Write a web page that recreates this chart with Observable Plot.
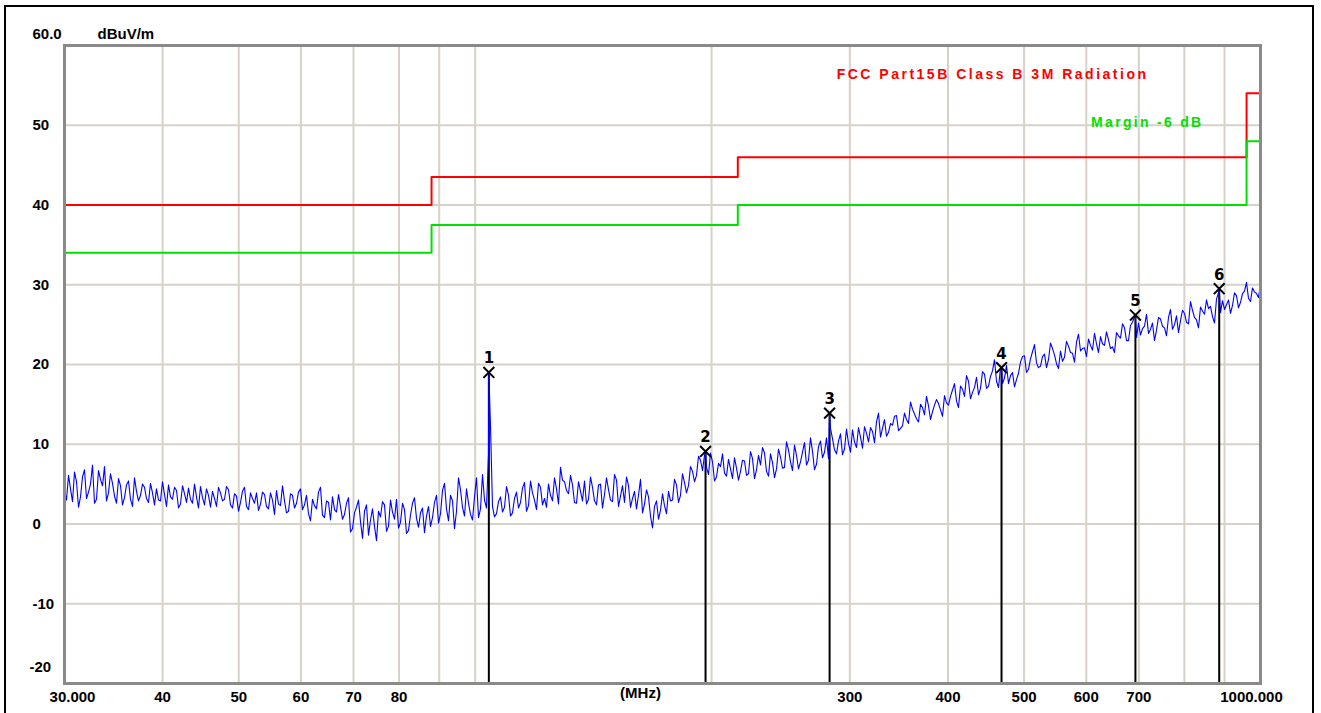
<!DOCTYPE html>
<html><head><meta charset="utf-8">
<script src="https://cdn.jsdelivr.net/npm/d3@7"></script>
<script src="https://cdn.jsdelivr.net/npm/@observablehq/plot@0.6"></script>
<style>
html,body{margin:0;padding:0;background:#fff;overflow:hidden;width:1321px;height:713px}
#chart{position:absolute;left:0;top:0}
#frame{position:absolute;left:4px;top:5px;width:1310px;height:760px;border:2px solid #000;box-sizing:border-box;pointer-events:none}
</style></head><body>
<div id="chart"></div><div id="frame"></div>
<script>
// Sweep definition (MHz)
const startMHz = 30, stopMHz = 1000;

const traceLevelsEven = [
  4.2, 6.1, 2.8, 5.3, 3.4, 6.8, 4.0, 7.4, 3.1, 5.6,
  7.2, 3.9, 5.1, 2.6, 4.8, 3.3, 5.4, 2.2, 4.1, 3.6,
  4.6, 2.7, 3.9, 4.4, 2.9, 3.7, 4.9, 3.1, 4.2, 2.5,
  3.8, 4.5, 2.6, 3.4, 4.7, 2.4, 3.6, 4.1, 2.2, 3.9,
  3.1, 4.3, 2.0, 3.5, 2.7, 4.6, 1.8, 3.2, 3.9, 2.5,
  3.7, 1.9, 3.0, 4.2, 2.3, 2.9, 1.6, 3.6, 2.6, 4.4,
  2.4, 1.3, 3.1, 1.9, 4.6, 0.8, 2.7, 3.4, 1.5, 2.2,
  1.2, 3.3, -0.6, 2.1, 0.3, 1.6, -1.4, 1.9, -2.1, 0.9,
  2.4, -0.3, 1.5, 3.1, 0.2, 1.8, -0.8, 2.6, 0.7, 1.4,
  -1.1, 2.2, 0.8, 3.6, 1.3, 5.1, 0.4, 2.9, 1.6, 4.3,
  1.0, 2.6, 0.5, 5.8, 1.9, 3.0, 8.8, 2.2, 1.3, 3.4,
  2.1, 3.6, 1.4, 4.0, 2.7, 5.2, 2.3, 3.9, 1.8, 4.6,
  3.2, 5.0, 2.9, 4.4, 7.1, 5.3, 3.8, 4.9, 2.6, 4.1,
  5.4, 3.1, 4.6, 2.4, 5.0, 3.7, 4.3, 2.8, 5.5, 3.5,
  2.7, 4.8, 3.2, 1.9, 5.6, 2.5, 3.4, -0.5, 2.9, 1.7,
  2.3, 4.1, 3.0, 4.9, 3.6, 5.2, 4.8, 6.6, 6.1, 8.0,
  8.6, 6.2, 7.8, 5.9, 7.2, 6.4, 8.1, 5.7, 7.0, 6.6,
  7.9, 6.3, 8.2, 6.8, 7.4, 8.9, 6.0, 7.7, 6.9, 8.4,
  7.1, 9.3, 6.7, 8.6, 7.8, 10.2, 8.0, 9.1, 7.5, 10.4,
  9.0, 8.2, 10.7, 8.8, 11.3, 9.4, 10.1, 11.8, 9.6, 10.9,
  12.2, 10.3, 11.6, 12.8, 10.9, 13.1, 11.5, 12.4, 13.6, 12.0,
  13.9, 12.6, 14.4, 13.2, 15.0, 13.7, 14.8, 14.1, 15.6, 14.3,
  16.1, 14.9, 16.8, 15.4, 17.3, 16.0, 17.9, 16.5, 18.4, 17.0,
  18.8, 17.3, 19.2, 17.9, 19.6, 18.3, 17.6, 19.0, 18.1, 20.3,
  21.1, 19.4, 21.6, 20.2, 19.8, 21.3, 20.6, 22.0, 20.1, 21.7,
  20.9, 22.3, 21.4, 22.8, 21.7, 22.1, 23.2, 21.8, 22.6, 23.5,
  22.4, 23.1, 22.2, 24.0, 23.3, 24.6, 23.0, 25.3, 23.4, 23.7,
  24.8, 23.9, 25.2, 24.3, 25.7, 24.6, 25.9, 24.4, 26.1, 25.5,
  26.4, 25.1, 26.8, 25.6, 27.2, 26.3, 27.0, 26.0, 28.2, 26.5,
  26.9, 28.1, 27.4, 28.6, 27.8, 29.2, 28.3, 29.6, 28.9, 30.1
];
// odd sweep points (between the even ones)
const traceLevelsOdd = [
  3.0, 4.4, 6.5, 2.1, 5.9, 3.2, 5.0, 2.6, 6.7, 4.8,
  2.9, 6.3, 3.5, 5.7, 2.4, 4.9, 3.1, 5.8, 2.9, 5.0,
  3.2, 5.1, 2.4, 3.0, 5.3, 2.2, 3.4, 4.6, 2.0, 4.8,
  2.7, 3.1, 5.0, 2.0, 3.3, 4.4, 2.1, 3.2, 4.6, 2.9,
  4.7, 2.4, 3.8, 1.6, 4.1, 2.2, 3.9, 2.6, 1.7, 4.0,
  2.2, 3.9, 1.2, 2.5, 4.8, 1.4, 3.8, 2.0, 4.0, 1.8,
  3.6, 0.4, 2.3, 4.0, 1.1, 2.9, 0.5, 1.8, 3.7, 0.6,
  2.6, -1.0, 1.4, 3.0, -1.8, 2.4, 0.5, -0.3, 1.6, 2.8,
  -0.9, 3.0, 0.6, -0.5, 2.6, -1.2, 1.1, 3.3, -0.4, 2.0,
  1.0, -0.3, 2.7, 0.1, 4.2, 1.9, 3.6, -0.6, 5.8, 2.1,
  4.4, 1.2, 3.4, 0.8, 6.2, 2.0, 12.3, 0.9, 2.8, 1.5,
  4.7, 1.0, 3.2, 2.0, 4.5, 1.6, 5.4, 3.0, 5.1, 2.4,
  2.1, 3.6, 5.8, 2.5, 5.5, 4.2, 6.1, 2.7, 5.3, 2.9,
  2.5, 5.9, 2.9, 4.9, 2.0, 5.8, 3.0, 6.2, 2.2, 4.8,
  5.9, 2.1, 4.1, 3.6, 1.4, 4.3, 1.0, 2.2, 0.6, 3.8,
  1.3, 2.9, 5.6, 2.7, 6.3, 3.9, 7.2, 5.3, 8.5, 6.7,
  7.1, 8.9, 5.4, 7.6, 8.8, 6.0, 6.9, 8.3, 5.5, 8.0,
  6.1, 9.1, 5.7, 8.6, 9.6, 6.6, 8.8, 5.8, 9.4, 7.0,
  10.3, 7.8, 9.9, 6.9, 9.0, 7.4, 10.8, 6.8, 9.7, 8.3,
  10.8, 12.0, 9.3, 10.4, 8.7, 11.9, 9.0, 10.3, 12.1, 9.5,
  11.4, 12.1, 10.2, 13.9, 12.0, 11.0, 12.6, 13.5, 11.7, 12.3,
  13.1, 15.3, 13.8, 12.8, 14.6, 16.0, 13.1, 14.9, 15.1, 13.5,
  15.2, 16.0, 17.6, 14.6, 16.9, 18.6, 15.7, 17.1, 16.2, 19.1,
  17.0, 18.5, 20.6, 17.1, 17.6, 19.9, 18.6, 17.2, 18.9, 21.0,
  19.0, 20.7, 22.5, 19.6, 21.0, 19.6, 22.7, 21.2, 19.5, 20.4,
  22.9, 21.5, 20.3, 23.8, 22.0, 21.0, 22.4, 23.9, 21.5, 22.6,
  24.1, 22.0, 21.5, 23.6, 25.1, 23.0, 24.9, 26.0, 25.2, 24.5,
  26.3, 24.4, 23.0, 25.9, 24.8, 23.6, 26.9, 25.0, 24.0, 26.8,
  25.3, 27.9, 25.9, 24.6, 26.7, 28.1, 27.3, 25.2, 29.0, 28.0,
  27.5, 26.4, 29.0, 27.1, 28.9, 30.3, 27.9, 29.1, 28.4
];

// FCC Part15B Class B 3 m limit and -6 dB margin
const limitFreqs   = [30, 88, 216, 960, 1000];
const limitLevels  = [40, 43.5, 46, 54, 54];
const marginLevels = [34, 37.5, 40, 48, 48];

// Peak markers
const markerIds    = [1, 2, 3, 4, 5, 6];
const markerFreqs  = [104.1, 196.5, 282.7, 468.0, 693.0, 886.0];
const markerLevels = [19.0, 9.1, 13.9, 19.6, 26.2, 29.5];

// Axis ticks
const xGridTicks  = [40, 50, 60, 70, 80, 90, 100, 200, 300, 400, 500, 600, 700, 800, 900];
const xLabelTicks = [40, 50, 60, 70, 80, 300, 400, 500, 600, 700];
const yGridTicks  = [-10, 0, 10, 20, 30, 40, 50];
const yLabelTicks = [-10, 0, 10, 20, 30, 40, 50];

// Build tables
const levels = [];
traceLevelsEven.forEach((v, i) => { levels.push(v); if (i < traceLevelsOdd.length) levels.push(traceLevelsOdd[i]); });
const n = levels.length;
const trace = levels.map((v, i) => ({f: startMHz * Math.pow(stopMHz / startMHz, i / (n - 1)), v}));
const markers = markerIds.map((id, i) => ({id, f: markerFreqs[i], v: markerLevels[i]}));
const traceAll = trace.concat(markers.map(m => ({f: m.f, v: m.v}))).sort((a, b) => a.f - b.f);
const limit = limitFreqs.map((f, i) => ({f, v: limitLevels[i]}));
const margin = limitFreqs.map((f, i) => ({f, v: marginLevels[i]}));

const gridColor = "#d6d2ca";
const chart = Plot.plot({
  width: 1321, height: 713,
  marginLeft: 64, marginRight: 61, marginTop: 45, marginBottom: 30,
  style: {fontFamily: "'Liberation Sans', Arial, sans-serif", fontSize: "15px", fontWeight: "bold", background: "transparent", color: "#000"},
  x: {type: "log", domain: [startMHz, stopMHz]},
  y: {domain: [-20, 60]},
  marks: [
    Plot.gridX(xGridTicks, {stroke: gridColor, strokeOpacity: 1, strokeWidth: 2}),
    Plot.gridY(yGridTicks, {stroke: gridColor, strokeOpacity: 1, strokeWidth: 2}),
    Plot.axisX(xLabelTicks, {tickSize: 0, tickPadding: 8, tickFormat: d => String(d), label: null}),
    Plot.axisX([startMHz], {tickSize: 0, tickPadding: 8, tickFormat: () => "30.000", dx: 8, label: null}),
    Plot.axisX([stopMHz], {tickSize: 0, tickPadding: 8, tickFormat: () => "1000.000", dx: -9, label: null}),
    Plot.axisY(yLabelTicks, {anchor: "left", tickSize: 0, tickPadding: 32, textAnchor: "start", tickFormat: d => String(d), label: null}),
    Plot.axisY([-20], {anchor: "left", tickSize: 0, tickPadding: 35, textAnchor: "start", tickFormat: d => String(d), dy: -16, label: null}),
    Plot.text(["(MHz)"], {frameAnchor: "bottom", dx: -22, dy: 14, fontWeight: "bold"}),
    Plot.text(["60.0"], {frameAnchor: "top-left", textAnchor: "start", dx: -32, dy: -17}),
    Plot.text(["dBuV/m"], {frameAnchor: "top-left", textAnchor: "start", dx: 33, dy: -17}),
    Plot.line(limit, {x: "f", y: "v", curve: "step-after", stroke: "#ff0000", strokeWidth: 2}),
    Plot.line(margin, {x: "f", y: "v", curve: "step-after", stroke: "#00e000", strokeWidth: 2}),
    Plot.ruleX(markers, {x: "f", y1: -20, y2: "v", stroke: "#000", strokeWidth: 2}),
    Plot.line(traceAll, {x: "f", y: "v", stroke: "#0000ff", strokeWidth: 1.1}),
    Plot.frame({stroke: "#8a8a8a", strokeWidth: 3}),
    Plot.dot(markers, {x: "f", y: "v", symbol: "times", r: 5, stroke: "#000", strokeWidth: 2}),
    Plot.text(markers, {x: "f", y: "v", text: "id", dy: -14, fontWeight: "bold", fontSize: 15, fontFamily: "'DejaVu Sans', sans-serif"}),
    Plot.text(["FCC Part15B Class B 3M Radiation"], {frameAnchor: "top-right", textAnchor: "end", dx: -112, dy: 24, fill: "#ff0000", fontWeight: "bold", fontSize: 14}),
    Plot.text(["Margin -6 dB"], {frameAnchor: "top-right", textAnchor: "end", dx: -57, dy: 72, fill: "#00e000", fontWeight: "bold", fontSize: 14})
  ]
});
d3.select(chart).selectAll("text").filter(function() {
  return this.textContent === "FCC Part15B Class B 3M Radiation";
}).style("letter-spacing", "2.5px");
d3.select(chart).selectAll("text").filter(function() {
  return this.textContent === "Margin -6 dB";
}).style("letter-spacing", "2.3px");
document.getElementById("chart").append(chart);
</script>
</body></html>
